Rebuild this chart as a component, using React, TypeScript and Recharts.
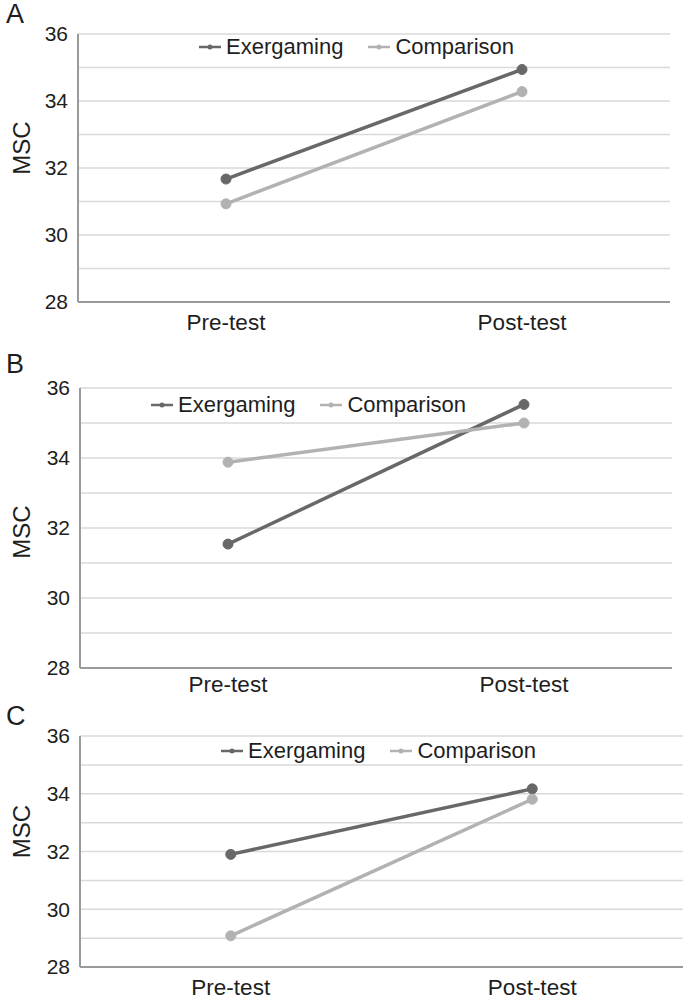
import React from 'react';
import { LineChart, Line, XAxis, YAxis, CartesianGrid, Legend, Label } from 'recharts';

const categories = ['Pre-test', 'Post-test'];
const seriesNames = ['Exergaming', 'Comparison'];
const exergamingA = [31.67, 34.94];
const comparisonA = [30.93, 34.28];
const exergamingB = [31.54, 35.53];
const comparisonB = [33.88, 35.0];
const exergamingC = [31.9, 34.17];
const comparisonC = [29.08, 33.81];
const yTicks = [28, 29, 30, 31, 32, 33, 34, 35, 36];
const yLabelTicks = [28, 30, 32, 34, 36];
const panelLetters = ['A', 'B', 'C'];

const FONT = '"Liberation Sans", Arial, sans-serif';
const EX_COLOR = '#686868';
const COMP_COLOR = '#b2b2b2';
const TEXT = '#1e1e1e';

const build = (ex: number[], comp: number[]) =>
  categories.map((c, i) => ({ cat: c, ex: ex[i], comp: comp[i] }));

const panels = [
  { letter: panelLetters[0], data: build(exergamingA, comparisonA), top: 0, plotH: 268, yW: 78, right: 13, tickM: 12, legendLeft: 198, legendTop: 34, letterY: 23, msc: -20 },
  { letter: panelLetters[1], data: build(exergamingB, comparisonB), top: 354, plotH: 280, yW: 80, right: 11, tickM: 8, legendLeft: 150, legendTop: 38, letterY: 373, msc: 4 },
  { letter: panelLetters[2], data: build(exergamingC, comparisonC), top: 702, plotH: 231, yW: 80, right: 0, tickM: 12, legendLeft: 220, legendTop: 36, letterY: 725, msc: -20 },
];

const LegendContent = (props: any) => {
  const payload = [...(props.payload || [])].sort(
    (a: any, b: any) => seriesNames.indexOf(a.value) - seriesNames.indexOf(b.value)
  );
  return (
    <div style={{ display: 'flex', alignItems: 'center', fontFamily: FONT, fontSize: 22, color: TEXT, whiteSpace: 'nowrap' }}>
      {payload.map((p: any, i: number) => (
        <div key={i} style={{ display: 'flex', alignItems: 'center', marginRight: 24 }}>
          <svg width={24} height={26} style={{ marginRight: 4 }}>
            <line x1={1} y1={13} x2={23} y2={13} stroke={p.color} strokeWidth={2.5} />
            <circle cx={12} cy={13} r={2.5} fill={p.color} />
          </svg>
          <span>{p.value}</span>
        </div>
      ))}
    </div>
  );
};

const Panel = ({ cfg }: { cfg: any }) => {
  const W = 683;
  const xAxisH = 33;
  const marginTop = 34;
  const H = marginTop + cfg.plotH + xAxisH;
  const plotW = W - cfg.yW - cfg.right;
  const pad = plotW / 4;
  return (
    <div style={{ position: 'absolute', left: 0, top: cfg.top, width: W, height: H }}>
      <LineChart width={W} height={H} data={cfg.data} margin={{ top: marginTop, right: cfg.right, left: 0, bottom: 0 }}>
        <CartesianGrid vertical={false} stroke="#d9d9d9" strokeWidth={1.5} />
        <XAxis
          dataKey="cat"
          height={xAxisH}
          padding={{ left: pad, right: pad }}
          tickLine={false}
          tickSize={0}
          tickMargin={cfg.tickM}
          stroke="#9a9a9a"
          strokeWidth={2}
          tick={{ fill: TEXT, fontSize: 22.5, fontFamily: FONT }}
        />
        <YAxis
          width={cfg.yW}
          domain={[28, 36]}
          ticks={yTicks}
          interval={0}
          tickLine={false}
          tickSize={0}
          tickMargin={10}
          stroke="#9a9a9a"
          strokeWidth={2}
          tickFormatter={(v: number) => (yLabelTicks.includes(v) ? String(v) : '')}
          tick={{ fill: TEXT, fontSize: 21, fontFamily: FONT }}
        >
          <Label
            content={(lp: any) => {
              const vb = lp.viewBox || {};
              const cx = 21;
              const cy = (vb.y || 0) + (vb.height || 0) / 2 + cfg.msc;
              return (
                <text x={cx} y={cy} transform={`rotate(-90 ${cx} ${cy})`} textAnchor="middle" dominantBaseline="central" fill={TEXT} fontSize={24} fontFamily={FONT}>
                  MSC
                </text>
              );
            }}
          />
        </YAxis>
        <Legend
          layout="horizontal"
          align="center"
          verticalAlign="middle"
          content={LegendContent}
          wrapperStyle={{ left: cfg.legendLeft, top: cfg.legendTop, width: 'auto', height: 'auto' }}
        />
        <Line dataKey="ex" name={seriesNames[0]} stroke={EX_COLOR} strokeWidth={3.5} dot={{ r: 5, fill: EX_COLOR, stroke: EX_COLOR, strokeWidth: 1 }} isAnimationActive={false} />
        <Line dataKey="comp" name={seriesNames[1]} stroke={COMP_COLOR} strokeWidth={3.5} dot={{ r: 5, fill: COMP_COLOR, stroke: COMP_COLOR, strokeWidth: 1 }} isAnimationActive={false} />
      </LineChart>
    </div>
  );
};

export default function App() {
  return (
    <div style={{ position: 'absolute', left: 0, top: 0, width: 683, height: 1001, background: '#fff', overflow: 'hidden' }}>
      {panels.map((p, i) => (
        <Panel key={i} cfg={p} />
      ))}
      <svg width={683} height={1001} style={{ position: 'absolute', left: 0, top: 0, pointerEvents: 'none' }}>
        {panels.map((p, i) => (
          <text key={i} x={6} y={p.letterY} fontSize={27} fontFamily={FONT} fill={TEXT}>
            {p.letter}
          </text>
        ))}
      </svg>
    </div>
  );
}
